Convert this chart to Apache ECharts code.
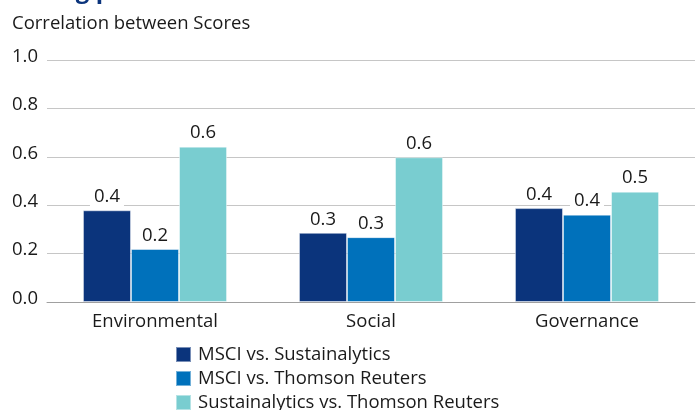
<!DOCTYPE html>
<html>
<head>
<meta charset="utf-8">
<script src="https://cdn.jsdelivr.net/npm/echarts@6/dist/echarts.min.js"></script>
<style>
  html, body { margin: 0; padding: 0; background: #fff; }
  #chart { width: 696px; height: 410px; }
</style>
</head>
<body>
<div id="chart"></div>
<script>
  var categories = ['Environmental', 'Social', 'Governance']
  var seriesNames = ['MSCI vs. Sustainalytics', 'MSCI vs. Thomson Reuters', 'Sustainalytics vs. Thomson Reuters']
  var msciSust = [0.379, 0.286, 0.388]
  var msciTR = [0.219, 0.268, 0.361]
  var sustTR = [0.642, 0.598, 0.456]
  var yTicks = [0, 0.2, 0.4, 0.6, 0.8, 1.0]

  var colorPalette = ['#0b347c', '#0071bb', '#79cdd0']
  var fontFamily = '"Open Sans", "Noto Sans", sans-serif'

  var chart = echarts.init(document.getElementById('chart'))

  var seriesTemp = []
  var allValues = [msciSust, msciTR, sustTR]
  for (let i in seriesNames) {
    seriesTemp.push({
      name: seriesNames[i],
      type: 'bar',
      data: allValues[i],
      barGap: '0%',
      barCategoryGap: '33.3%',
      itemStyle: {
        borderColor: 'rgba(255,255,255,0.45)',
        borderWidth: 1
      },
      label: {
        show: true,
        position: 'top',
        distance: 3,
        color: '#1a1a1a',
        fontSize: 18.5,
        fontFamily: fontFamily,
        backgroundColor: '#fff',
        padding: [1, 4, 1, 4],
        formatter: function (p) {
          return p.value.toFixed(1)
        }
      }
    })
  }

  var options = {
    color: colorPalette,
    animation: false,
    title: {
      text: 'Correlation between Scores',
      left: 12,
      top: 14,
      padding: 0,
      textStyle: {
        color: '#1a1a1a',
        fontSize: 18.5,
        fontWeight: 'normal',
        fontFamily: fontFamily
      }
    },
    graphic: [{
      type: 'text',
      left: 12,
      top: -21,
      style: {
        text: 'Rating providers',
        fill: '#0b347c',
        font: 'bold 24px "Open Sans", sans-serif'
      }
    }],
    legend: {
      orient: 'vertical',
      left: 175,
      top: 345,
      height: 80,
      padding: 0,
      itemWidth: 15,
      itemHeight: 15,
      itemGap: 5,
      icon: 'rect',
      data: seriesNames,
      textStyle: {
        color: '#1a1a1a',
        fontSize: 18.5,
        fontFamily: fontFamily,
        padding: [0, 0, 0, 2]
      }
    },
    grid: {
      left: 47,
      right: 1,
      top: 60,
      bottom: 108,
      containLabel: false
    },
    xAxis: [{
      type: 'category',
      data: categories,
      axisTick: { show: false },
      axisLine: { show: true, lineStyle: { color: '#a0a0a0', width: 1 } },
      axisLabel: {
        color: '#1a1a1a',
        fontSize: 18.5,
        fontFamily: fontFamily,
        margin: 10
      }
    }],
    yAxis: [{
      type: 'value',
      min: 0,
      max: 1,
      interval: 0.2,
      axisLine: { show: false },
      axisTick: { show: false },
      splitLine: { show: true, lineStyle: { color: '#c6c6c6', width: 1 } },
      axisLabel: {
        color: '#1a1a1a',
        fontSize: 18.5,
        fontFamily: fontFamily,
        margin: 9,
        verticalAlign: 'bottom',
        lineHeight: 7,
        formatter: function (value) {
          return value.toFixed(1)
        }
      }
    }],
    series: seriesTemp
  }

  chart.setOption(options)
</script>
</body>
</html>
